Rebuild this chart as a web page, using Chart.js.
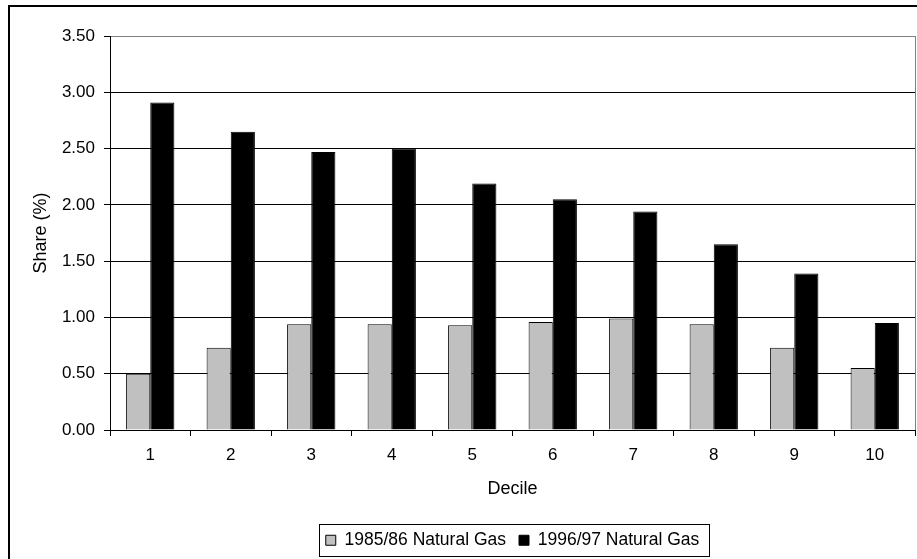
<!DOCTYPE html>
<html>
<head>
<meta charset="utf-8">
<script src="https://cdn.jsdelivr.net/npm/chart.js@4"></script>
<style>
  html, body { margin: 0; padding: 0; background: #fff; overflow: hidden; }
  #frame { position: absolute; left: 8px; top: 5px; width: 930px; height: 580px; border: 2px solid #000; }
  #shareChart { position: absolute; left: 0; top: 0; }
</style>
</head>
<body>
<div id="frame"></div>
<canvas id="shareChart" width="917" height="559"></canvas>
<script>
// chart values
const deciles = ["1", "2", "3", "4", "5", "6", "7", "8", "9", "10"];
const gas8586 = [0.50, 0.73, 0.94, 0.94, 0.93, 0.96, 0.99, 0.94, 0.73, 0.55];
const gas9697 = [2.91, 2.65, 2.47, 2.50, 2.19, 2.05, 1.94, 1.65, 1.39, 0.95];
const seriesNames = ["1985/86 Natural Gas", "1996/97 Natural Gas"];
const yMin = 0, yMax = 3.5, yStep = 0.5;

const family = "'Liberation Sans', Arial, sans-serif";
const tickFont = { family: family, size: 17 };
const titleFont = { family: family, size: 18 };
const legendFont = { family: family, size: 17.5 };

// gray border on the plot area + box around the legend
const frames = {
  id: 'frames',
  beforeDatasetsDraw(chart) {
    const { ctx, chartArea: a } = chart;
    ctx.save();
    ctx.strokeStyle = '#808080';
    ctx.lineWidth = 1;
    ctx.beginPath();
    ctx.moveTo(a.right + 0.5, a.top);
    ctx.lineTo(a.right + 0.5, a.bottom);
    ctx.stroke();
    ctx.restore();
  },
  afterDraw(chart) {
    const boxes = chart.legend.legendHitBoxes;
    if (!boxes || !boxes.length) return;
    const first = boxes[0], last = boxes[boxes.length - 1];
    const ctx = chart.ctx;
    ctx.save();
    ctx.strokeStyle = '#000';
    ctx.lineWidth = 1;
    const x0 = Math.round(first.left - 7) + 0.5;
    const x1 = Math.round(last.left + last.width + 10) + 0.5;
    const y0 = Math.round(first.top - 7.5) + 0.5;
    const y1 = Math.round(first.top + first.height + 7) + 0.5;
    ctx.strokeRect(x0, y0, x1 - x0, y1 - y0);
    ctx.restore();
  }
};

new Chart(document.getElementById('shareChart'), {
  type: 'bar',
  data: {
    labels: deciles,
    datasets: [{
      label: seriesNames[0],
      data: gas8586,
      backgroundColor: '#c0c0c0',
      borderColor: '#000',
      borderWidth: 1
    }, {
      label: seriesNames[1],
      data: gas9697,
      backgroundColor: '#000',
      borderColor: '#000',
      borderWidth: 1
    }]
  },
  options: {
    responsive: false,
    animation: false,
    datasets: { bar: { categoryPercentage: 0.6, barPercentage: 1 } },
    layout: { padding: { left: 0, top: 36, right: 2, bottom: 0 } },
    plugins: {
      tooltip: { enabled: false },
      legend: {
        position: 'bottom',
        fullSize: false,
        labels: { color: '#000', font: legendFont, boxWidth: 10, boxHeight: 10, padding: 13 }
      }
    },
    scales: {
      x: {
        afterFit(scale) { scale.height = 88.5; },
        grid: { drawOnChartArea: false, color: '#000', tickColor: '#000', tickLength: 6 },
        border: { color: '#000' },
        ticks: { color: '#000', font: tickFont, padding: 9, maxRotation: 0 },
        title: { display: true, text: 'Decile', color: '#000', font: titleFont, padding: { top: 0, bottom: 19 } }
      },
      y: {
        min: yMin,
        max: yMax,
        afterFit(scale) { scale.width = 110; },
        grid: {
          color: (c) => c.tick && c.tick.value === yMax ? '#808080' : '#000',
          tickColor: '#000',
          tickLength: 6
        },
        border: { color: '#000' },
        ticks: {
          stepSize: yStep,
          color: '#000',
          font: tickFont,
          padding: 9,
          callback: (v) => Number(v).toFixed(2)
        },
        title: { display: true, text: 'Share (%)', color: '#000', font: titleFont, padding: { top: 30, bottom: 0 } }
      }
    }
  },
  plugins: [frames]
});
</script>
</body>
</html>
